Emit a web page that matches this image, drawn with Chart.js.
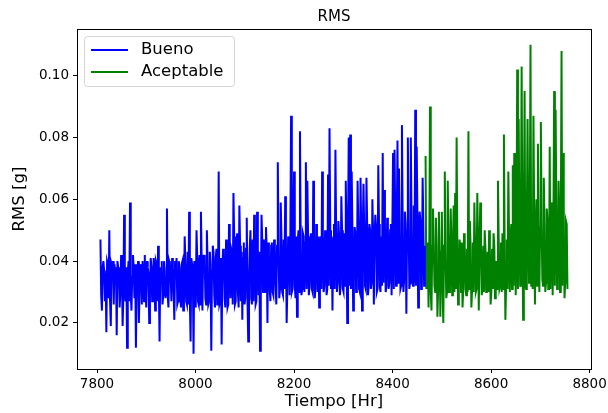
<!DOCTYPE html>
<html>
<head>
<meta charset="utf-8">
<title>RMS</title>
<script src="https://cdn.jsdelivr.net/npm/chart.js@4.4.1/dist/chart.umd.min.js"></script>
<style>
  body { margin: 0; background: #fff; }
  #wrap { width: 608px; height: 413px; }
</style>
</head>
<body>
<div id="wrap"><canvas id="chart" width="608" height="413"></canvas></div>
<script>
// muestreo: una lectura cada 1.5 horas
const inicioBueno = 7807;
const inicioAceptable = 8467;
const pasoHoras = 1.5;

// RMS [g], tramo "Bueno"
const rmsBueno = [
  0.047,0.029, 0.024,0.038, 0.040,0.037, 0.027,0.036, 0.017,0.040, 0.039,0.028, 0.050,0.027, 0.019,0.039, 0.038,0.040, 0.026,0.039,
  0.036,0.038, 0.016,0.040, 0.038,0.036, 0.025,0.030, 0.042,0.037, 0.019,0.028, 0.055,0.030, 0.027,0.038, 0.012,0.036, 0.040,0.027,
  0.059,0.029, 0.024,0.035, 0.042,0.038, 0.028,0.039, 0.012,0.033, 0.037,0.040, 0.020,0.031, 0.039,0.037, 0.026,0.040, 0.036,0.027,
  0.042,0.030, 0.025,0.040, 0.038,0.036, 0.020,0.029, 0.041,0.038, 0.027,0.031, 0.041,0.037, 0.024,0.040, 0.039,0.027, 0.045,0.032,
  0.014,0.038, 0.036,0.040, 0.026,0.029, 0.040,0.037, 0.028,0.031, 0.057,0.029, 0.025,0.040, 0.039,0.036, 0.027,0.041, 0.038,0.030,
  0.021,0.040, 0.036,0.041, 0.026,0.027, 0.040,0.038, 0.029,0.025, 0.039,0.040, 0.024,0.027, 0.048,0.039, 0.027,0.026, 0.043,0.026,
  0.056,0.027, 0.014,0.041, 0.039,0.036, 0.010,0.040, 0.037,0.025, 0.050,0.041, 0.027,0.026, 0.042,0.026, 0.056,0.040, 0.024,0.042,
  0.040,0.042, 0.028,0.026, 0.050,0.040, 0.026,0.027, 0.043,0.039, 0.011,0.037, 0.045,0.043, 0.029,0.025, 0.041,0.044, 0.026,0.027,
  0.069,0.026, 0.027,0.041, 0.013,0.038, 0.044,0.042, 0.028,0.025, 0.047,0.043, 0.025,0.026, 0.052,0.041, 0.028,0.044, 0.043,0.026,
  0.062,0.048, 0.026,0.027, 0.045,0.049, 0.030,0.025, 0.058,0.045, 0.027,0.043, 0.021,0.041, 0.046,0.026, 0.028,0.044, 0.054,0.027,
  0.014,0.032, 0.044,0.050, 0.028,0.026, 0.047,0.027, 0.055,0.045, 0.026,0.027, 0.056,0.044, 0.029,0.043, 0.011,0.028, 0.055,0.046,
  0.030,0.047, 0.045,0.030, 0.051,0.044, 0.020,0.046, 0.042,0.031, 0.027,0.045, 0.046,0.030, 0.029,0.047, 0.044,0.032, 0.026,0.045,
  0.072,0.046, 0.028,0.031, 0.059,0.047, 0.030,0.029, 0.047,0.031, 0.061,0.045, 0.020,0.032, 0.048,0.046, 0.029,0.048, 0.087,0.030,
  0.031,0.047, 0.069,0.032, 0.028,0.048, 0.022,0.046, 0.050,0.030, 0.082,0.047, 0.029,0.031, 0.049,0.048, 0.030,0.046, 0.072,0.031,
  0.066,0.048, 0.029,0.032, 0.047,0.049, 0.031,0.030, 0.066,0.047, 0.028,0.031, 0.052,0.046, 0.030,0.048, 0.025,0.045, 0.048,0.031,
  0.069,0.049, 0.030,0.032, 0.050,0.047, 0.029,0.031, 0.068,0.032, 0.083,0.050, 0.031,0.048, 0.024,0.047, 0.052,0.031, 0.076,0.049,
  0.030,0.033, 0.053,0.048, 0.029,0.032, 0.061,0.050, 0.031,0.030, 0.049,0.032, 0.066,0.049, 0.020,0.047, 0.080,0.032, 0.081,0.031,
  0.069,0.050, 0.024,0.033, 0.051,0.049, 0.030,0.032, 0.066,0.051, 0.031,0.030, 0.067,0.048, 0.024,0.050, 0.065,0.049, 0.032,0.031,
  0.067,0.051, 0.029,0.032, 0.052,0.050, 0.031,0.033, 0.060,0.049, 0.026,0.048, 0.055,0.051, 0.030,0.031, 0.071,0.052, 0.032,0.030,
  0.048,0.032, 0.075,0.033, 0.063,0.052, 0.030,0.032, 0.054,0.051, 0.031,0.033, 0.050,0.052, 0.029,0.050, 0.075,0.031, 0.076,0.053,
  0.032,0.052, 0.079,0.033, 0.070,0.054, 0.031,0.032, 0.084,0.053, 0.030,0.034, 0.056,0.052, 0.023,0.050, 0.080,0.054, 0.031,0.033,
  0.080,0.053, 0.033,0.032, 0.058,0.033, 0.089,0.032, 0.077,0.054, 0.025,0.052, 0.056,0.053, 0.031,0.033, 0.067,0.052, 0.032,0.045
];

// RMS [g], tramo "Aceptable"
const rmsAceptable = [
  0.074,0.031, 0.045,0.046, 0.025,0.044, 0.090,0.030, 0.024,0.045, 0.057,0.046, 0.032,0.030, 0.054,0.045, 0.022,0.031, 0.056,0.044,
  0.022,0.043, 0.056,0.031, 0.020,0.045, 0.069,0.044, 0.028,0.030, 0.066,0.046, 0.030,0.031, 0.057,0.045, 0.029,0.044, 0.058,0.030,
  0.062,0.031, 0.080,0.045, 0.026,0.032, 0.047,0.044, 0.030,0.046, 0.025,0.031, 0.049,0.045, 0.031,0.029, 0.044,0.030, 0.082,0.031,
  0.053,0.044, 0.025,0.031, 0.046,0.030, 0.059,0.045, 0.030,0.031, 0.062,0.046, 0.024,0.044, 0.059,0.045, 0.029,0.031, 0.045,0.030,
  0.050,0.044, 0.030,0.031, 0.043,0.030, 0.050,0.043, 0.026,0.030, 0.044,0.031, 0.049,0.045, 0.028,0.030, 0.040,0.031, 0.066,0.046,
  0.031,0.032, 0.046,0.030, 0.049,0.031, 0.081,0.046, 0.021,0.032, 0.047,0.031, 0.069,0.048, 0.030,0.047, 0.052,0.031, 0.071,0.032,
  0.075,0.050, 0.029,0.048, 0.102,0.031, 0.086,0.052, 0.032,0.050, 0.103,0.049, 0.021,0.051, 0.095,0.033, 0.031,0.052, 0.086,0.050,
  0.033,0.052, 0.110,0.032, 0.045,0.031, 0.087,0.053, 0.026,0.050, 0.060,0.032, 0.078,0.054, 0.030,0.051, 0.085,0.053, 0.034,0.032,
  0.067,0.052, 0.030,0.033, 0.057,0.053, 0.031,0.032, 0.077,0.031, 0.059,0.054, 0.029,0.052, 0.095,0.032, 0.089,0.055, 0.031,0.033,
  0.066,0.053, 0.030,0.051, 0.108,0.032, 0.075,0.054, 0.028,0.033, 0.053,0.052, 0.031
];

const ticksX = [7800, 8000, 8200, 8400, 8600, 8800];
const ticksY = [0.02, 0.04, 0.06, 0.08, 0.10];

const fuente = '"DejaVu Sans", sans-serif';

function aPuntos(valores, inicio) {
  return valores.map((v, i) => ({ x: inicio + i * pasoHoras, y: v }));
}

// marco negro alrededor del area de datos
const marco = {
  id: 'marco',
  afterDraw(chart) {
    const { ctx, chartArea: a } = chart;
    ctx.save();
    ctx.strokeStyle = '#000';
    ctx.lineWidth = 1;
    ctx.strokeRect(Math.round(a.left) + 0.5, Math.round(a.top) + 0.5,
      Math.round(a.right - a.left), Math.round(a.bottom - a.top));
    ctx.restore();
  }
};

// leyenda dentro del grafico, arriba a la izquierda
const leyenda = {
  id: 'leyenda',
  afterDraw(chart) {
    const ctx = chart.ctx;
    ctx.save();
    ctx.beginPath();
    ctx.roundRect(84.5, 36.5, 150, 50, 3);
    ctx.fillStyle = 'rgba(255,255,255,0.8)';
    ctx.fill();
    ctx.strokeStyle = '#d5d5d5';
    ctx.lineWidth = 1;
    ctx.stroke();
    chart.data.datasets.forEach((ds, i) => {
      const ly = 50 + i * 22;
      ctx.strokeStyle = ds.borderColor;
      ctx.lineWidth = 1.8;
      ctx.beginPath();
      ctx.moveTo(91, ly);
      ctx.lineTo(128, ly);
      ctx.stroke();
      ctx.fillStyle = '#000';
      ctx.font = '16.5px ' + fuente;
      ctx.textBaseline = 'middle';
      ctx.fillText(ds.label, 141, ly);
    });
    ctx.restore();
  }
};

new Chart(document.getElementById('chart'), {
  type: 'line',
  data: {
    datasets: [
      {
        label: 'Bueno',
        data: aPuntos(rmsBueno, inicioBueno),
        borderColor: '#0000ff',
        borderWidth: 2,
        pointRadius: 0,
        tension: 0
      },
      {
        label: 'Aceptable',
        data: aPuntos(rmsAceptable, inicioAceptable),
        borderColor: '#008000',
        borderWidth: 2,
        pointRadius: 0,
        tension: 0
      }
    ]
  },
  options: {
    responsive: false,
    devicePixelRatio: 1,
    animation: false,
    layout: { padding: { left: 0, right: 17, top: 0, bottom: 0 } },
    plugins: {
      legend: { display: false },
      tooltip: { enabled: false },
      title: {
        display: true,
        fullSize: false,
        text: 'RMS',
        color: '#000',
        font: { family: fuente, size: 15, weight: 'normal' },
        padding: { top: 8.5, bottom: 2.5 }
      }
    },
    scales: {
      x: {
        type: 'linear',
        min: 7759.4,
        max: 8802.8,
        afterBuildTicks: s => { s.ticks = ticksX.map(v => ({ value: v })); },
        afterFit: s => { s.height = 44; s.paddingLeft = 0; s.paddingRight = 0; },
        ticks: {
          color: '#000',
          font: { family: fuente, size: 13.5 },
          padding: 3,
          maxRotation: 0,
          callback: v => v.toFixed(0)
        },
        grid: { display: true, drawOnChartArea: false, drawTicks: true, tickLength: 4, color: '#000' },
        border: { display: true, color: '#000', width: 1 },
        title: {
          display: true,
          text: 'Tiempo [Hr]',
          color: '#000',
          font: { family: fuente, size: 16.5 },
          padding: { top: 0, bottom: 1 }
        }
      },
      y: {
        type: 'linear',
        min: 0.0051,
        max: 0.1151,
        afterBuildTicks: s => { s.ticks = ticksY.map(v => ({ value: v })); },
        afterFit: s => { s.width = 77; s.paddingTop = 0; s.paddingBottom = 0; },
        ticks: {
          color: '#000',
          font: { family: fuente, size: 13.5 },
          padding: 4,
          callback: v => v.toFixed(2)
        },
        grid: { display: true, drawOnChartArea: false, drawTicks: true, tickLength: 4, color: '#000' },
        border: { display: true, color: '#000', width: 1 },
        title: {
          display: true,
          text: 'RMS [g]',
          color: '#000',
          font: { family: fuente, size: 16.5 },
          padding: { top: 10, bottom: 0 }
        }
      }
    }
  },
  plugins: [marco, leyenda]
});
</script>
</body>
</html>
